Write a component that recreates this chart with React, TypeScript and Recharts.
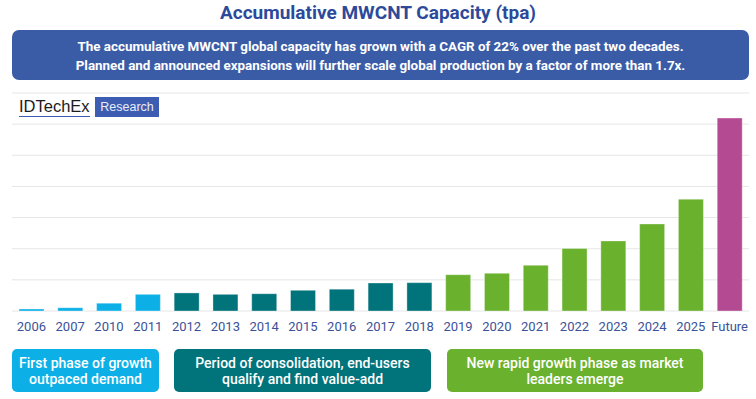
import React from 'react';
import { BarChart, Bar, XAxis, YAxis, CartesianGrid, Cell } from 'recharts';

const categories = ['2006', '2007', '2010', '2011', '2012', '2013', '2014', '2015', '2016', '2017', '2018', '2019', '2020', '2021', '2022', '2023', '2024', '2025', 'Future'];
const capacity = [1300, 2100, 5000, 10700, 11600, 10700, 11100, 13300, 14000, 18000, 18200, 23300, 24200, 29400, 40100, 45000, 55900, 71800, 123900];
const phases = ['first', 'first', 'first', 'first', 'consolidation', 'consolidation', 'consolidation', 'consolidation', 'consolidation', 'consolidation', 'consolidation', 'growth', 'growth', 'growth', 'growth', 'growth', 'growth', 'growth', 'future'];
const yTicks = [0, 20000, 40000, 60000, 80000, 100000, 120000, 140000];

const phaseColors: Record<string, string> = {
  first: '#0cb0e7',
  consolidation: '#00737b',
  growth: '#6ab12e',
  future: '#b44a92',
};

const titleText = 'Accumulative MWCNT Capacity (tpa)';
const bannerLines = [
  'The accumulative MWCNT global capacity has grown with a CAGR of 22% over the past two decades.',
  'Planned and announced expansions will further scale global production by a factor of more than 1.7x.',
];
const phaseBoxes = [
  { phase: 'first', lines: ['First phase of growth', 'outpaced demand'], left: 12, width: 147 },
  { phase: 'consolidation', lines: ['Period of consolidation, end-users', 'qualify and find value-add'], left: 174, width: 257 },
  { phase: 'growth', lines: ['New rapid growth phase as market', 'leaders emerge'], left: 447, width: 256 },
];

const data = categories.map((c, i) => ({ year: c, value: capacity[i], phase: phases[i] }));

export default function App() {
  return (
    <div style={{ position: 'absolute', left: 0, top: 0, width: 756, height: 399, background: '#fff', fontFamily: 'Roboto, sans-serif', overflow: 'hidden' }}>
      <div style={{ position: 'absolute', left: 0, top: 0 }}>
        <BarChart width={756} height={399} data={data} margin={{ top: 93, right: 7, bottom: 0, left: 12 }}>
          <CartesianGrid vertical={false} stroke="#e6e6e6" strokeWidth={1} />
          <XAxis
            dataKey="year"
            height={88}
            axisLine={false}
            tickLine={false}
            tickSize={0}
            tickMargin={11}
            interval={0}
            tick={{ fill: '#3b5299', fontSize: 13, fontFamily: 'Roboto, sans-serif' }}
          />
          <YAxis hide type="number" domain={[0, 140000]} ticks={yTicks} />
          <Bar dataKey="value" barSize={25} isAnimationActive={false} stroke="rgba(255,255,255,0.35)" strokeWidth={1}>
            {data.map((d, i) => (
              <Cell key={i} fill={phaseColors[d.phase]} />
            ))}
          </Bar>
        </BarChart>
      </div>

      <div style={{ position: 'absolute', left: 0, top: 0, width: 756, height: 26, lineHeight: '26px', textAlign: 'center', fontSize: 19, fontWeight: 700, color: '#2d4a9a' }}>
        {titleText}
      </div>

      <div style={{ position: 'absolute', left: 12, top: 30, width: 737, height: 50, borderRadius: 7, background: '#3a5ca7', color: '#fff', display: 'flex', flexDirection: 'column', alignItems: 'center', justifyContent: 'center', fontSize: 13.4, fontWeight: 700, lineHeight: '19px', paddingTop: 2, boxSizing: 'border-box' }}>
        {bannerLines.map((l, i) => (
          <div key={i} style={{ whiteSpace: 'nowrap' }}>{l}</div>
        ))}
      </div>

      <div style={{ position: 'absolute', left: 19, top: 96, height: 20, fontFamily: '"Liberation Sans", Arial, sans-serif', fontSize: 16.5, lineHeight: '20px', color: '#1c1c1c' }}>
        <span style={{ borderBottom: '1.5px solid #3a5cb0', paddingBottom: 1 }}>IDTechEx</span>
      </div>
      <div style={{ position: 'absolute', left: 95, top: 97, width: 64, height: 20, background: '#3c5db1', color: '#e8ecf7', fontFamily: '"Liberation Sans", Arial, sans-serif', fontSize: 12.5, lineHeight: '20px', textAlign: 'center' }}>
        Research
      </div>

      {phaseBoxes.map((b, i) => (
        <div key={i} style={{ position: 'absolute', left: b.left, top: 349, width: b.width, height: 43, borderRadius: 5, background: phaseColors[b.phase], color: '#fff', display: 'flex', flexDirection: 'column', alignItems: 'center', justifyContent: 'center', fontSize: 14, fontWeight: 500, lineHeight: '16px', paddingTop: 1, boxSizing: 'border-box' }}>
          {b.lines.map((l, j) => (
            <div key={j} style={{ whiteSpace: 'nowrap' }}>{l}</div>
          ))}
        </div>
      ))}
    </div>
  );
}
